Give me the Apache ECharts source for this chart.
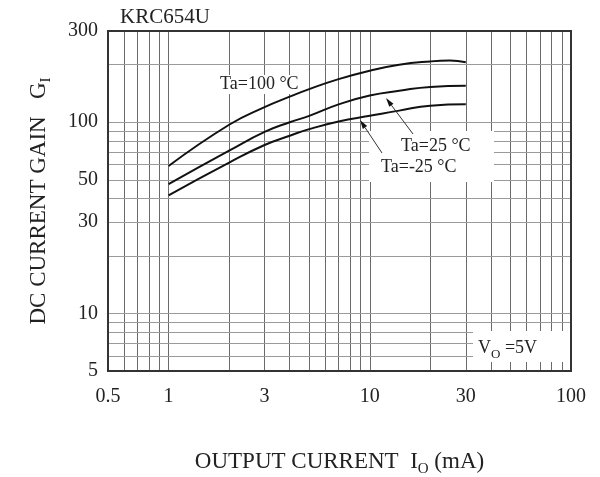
<!DOCTYPE html>
<html>
<head>
<meta charset="utf-8">
<script src="https://cdn.jsdelivr.net/npm/echarts@6/dist/echarts.min.js"></script>
<style>
html,body{margin:0;padding:0;background:#fff;}
#main{width:600px;height:477px;}
</style>
</head>
<body>
<div id="main"></div>
<script>
// ---- data ----
const chartTitle = 'KRC654U';
const xTickLabels = [0.5, 1, 3, 10, 30, 100];
const yTickLabels = [5, 10, 30, 50, 100, 300];
const xGridValues = [0.6, 0.7, 0.8, 0.9, 1, 2, 3, 4, 5, 6, 7, 8, 9, 10, 20, 30, 40, 50, 60, 70, 80, 90];
const yGridValues = [6, 7, 8, 9, 10, 20, 30, 40, 50, 60, 70, 80, 90, 100, 200];

const x100 = [1, 2, 3, 4, 5, 7, 10, 14, 20, 25, 30];
const g100 = [59, 97, 120, 136, 149, 168, 186, 200, 208, 210, 206];
const x25 = [1, 2, 3, 4, 5, 7, 10, 14, 20, 30];
const g25 = [47.5, 71, 89, 100, 108, 124, 138, 146, 153, 155];
const xm25 = [1, 2, 3, 4, 5, 7, 10, 14, 20, 30];
const gm25 = [41.5, 61.5, 76, 85, 92, 101, 108, 115, 122, 124];

const seriesNames = ['Ta=100 °C', 'Ta=25 °C', 'Ta=-25 °C'];

// ---- chart ----
const FONT = '"Liberation Serif","DejaVu Serif",serif';
const chart = echarts.init(document.getElementById('main'), null, {renderer: 'canvas'});

function zip(xs, ys) { return xs.map((x, i) => [x, ys[i]]); }

function arrow(tail, tip) {
  const dx = tip[0] - tail[0], dy = tip[1] - tail[1];
  const len = Math.sqrt(dx * dx + dy * dy);
  const ux = dx / len, uy = dy / len;
  const hl = 9, hw = 2.6;
  const bx = tip[0] - ux * hl, by = tip[1] - uy * hl;
  const px = -uy, py = ux;
  return [
    {type: 'line', z: 20, shape: {x1: tail[0], y1: tail[1], x2: bx, y2: by},
     style: {stroke: '#333', lineWidth: 1}},
    {type: 'polygon', z: 20, shape: {points: [[tip[0], tip[1]], [bx + px * hw, by + py * hw], [bx - px * hw, by - py * hw]]},
     style: {fill: '#111'}}
  ];
}

const curveStyle = {color: '#111', width: 2};
const richName = {
  t: {fontFamily: FONT, fontSize: 23, color: '#222', lineHeight: 30, verticalAlign: 'middle'},
  s: {fontFamily: FONT, fontSize: 15, color: '#222', lineHeight: 30, verticalAlign: 'bottom'}
};

const option = {
  animation: false,
  backgroundColor: '#fff',
  grid: {left: 108, right: 29, top: 31, bottom: 106, outerBoundsMode: 'none', containLabel: false,
    show: true, borderColor: '#333', borderWidth: 2, backgroundColor: 'transparent', z: 8},
  xAxis: {
    type: 'log', min: 0.5, max: 100, logBase: 10,
    name: '{t|OUTPUT CURRENT  I}{s|O}{t| (mA)}',
    nameLocation: 'middle', nameGap: 76,
    nameTextStyle: {fontFamily: FONT, color: '#222', rich: richName},
    axisLine: {show: false},
    axisTick: {show: false},
    splitLine: {show: false},
    axisLabel: {customValues: xTickLabels, fontFamily: FONT, fontSize: 20, color: '#222', margin: 16,
      formatter: v => String(v)}
  },
  yAxis: {
    type: 'log', min: 5, max: 300, logBase: 10,
    name: '{t|DC CURRENT GAIN   G}{s|I}',
    nameLocation: 'middle', nameGap: 54, nameRotate: 90,
    nameTextStyle: {fontFamily: FONT, color: '#222', rich: richName},
    axisLine: {show: false},
    axisTick: {show: false},
    splitLine: {show: false},
    axisLabel: {customValues: yTickLabels, fontFamily: FONT, fontSize: 20, color: '#222', margin: 10,
      formatter: v => String(v)}
  },
  series: [
    {
      type: 'line', data: [], silent: true, z: 1,
      markLine: {
        z: 1,
        silent: true, symbol: ['none', 'none'], label: {show: false},
        animation: false,
        data: [
          ...xGridValues.map(v => ({xAxis: v, lineStyle: {color: '#6a6a6a', width: 1, type: 'solid'}})),
          ...yGridValues.map(v => ({yAxis: v, lineStyle: {color: '#9a9a9a', width: 1, type: 'solid'}}))
        ]
      }
    },
    {name: seriesNames[0], type: 'line', smooth: 0.5, symbol: 'none', data: zip(x100, g100), lineStyle: curveStyle, z: 5},
    {name: seriesNames[1], type: 'line', smooth: 0.5, symbol: 'none', data: zip(x25, g25), lineStyle: curveStyle, z: 5},
    {name: seriesNames[2], type: 'line', smooth: 0.5, symbol: 'none', data: zip(xm25, gm25), lineStyle: curveStyle, z: 5}
  ],
  graphic: [
    {type: 'text', left: 120, top: 7, z: 30, style: {text: chartTitle, font: '21px ' + FONT, fill: '#222'}},
    // label boxes (above grid lines, below curves)
    {type: 'rect', z: 3, shape: {x: 218, y: 75, width: 86, height: 19}, style: {fill: '#fff'}},
    {type: 'rect', z: 3, shape: {x: 369, y: 131, width: 125, height: 51}, style: {fill: '#fff'}},
    {type: 'rect', z: 3, shape: {x: 473, y: 331, width: 97, height: 31}, style: {fill: '#fff'}},
    {type: 'text', z: 30, x: 220, y: 84, style: {text: seriesNames[0], font: '18px ' + FONT, fill: '#222', verticalAlign: 'middle'}},
    {type: 'text', z: 30, x: 401, y: 146, style: {text: seriesNames[1], font: '18px ' + FONT, fill: '#222', verticalAlign: 'middle'}},
    {type: 'text', z: 30, x: 381, y: 167, style: {text: seriesNames[2], font: '18px ' + FONT, fill: '#222', verticalAlign: 'middle'}},
    {type: 'text', z: 30, x: 478, y: 348, style: {
      text: '{a|V}{b|O}{a| =5V}', verticalAlign: 'middle',
      rich: {
        a: {fontFamily: FONT, fontSize: 18, fill: '#222', color: '#222', lineHeight: 26, verticalAlign: 'middle'},
        b: {fontFamily: FONT, fontSize: 13, fill: '#222', color: '#222', lineHeight: 26, verticalAlign: 'bottom'}
      }
    }},
    ...arrow([413, 134], [386, 98]),
    ...arrow([382, 153], [360, 120])
  ]
};
chart.setOption(option);
</script>
</body>
</html>
